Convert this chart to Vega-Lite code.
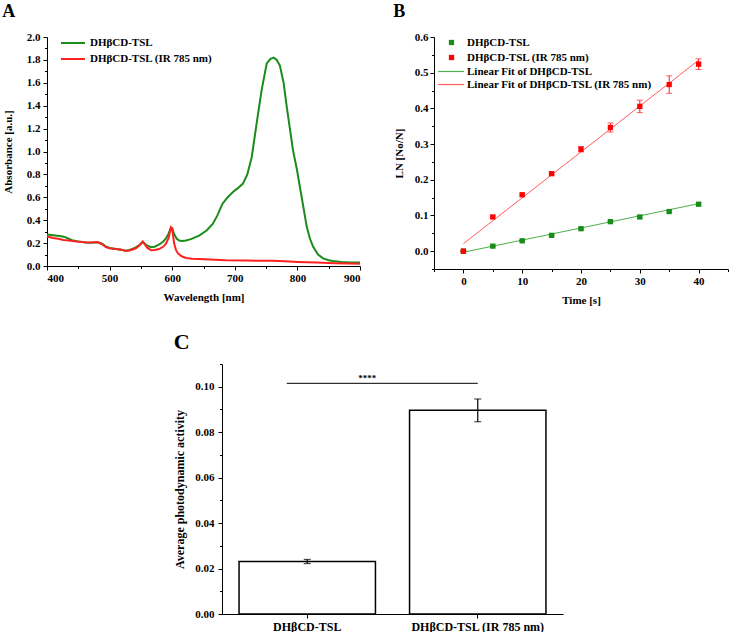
{
  "$schema": "https://vega.github.io/schema/vega-lite/v6.json",
  "padding": {"left": 2, "top": 3, "right": 0, "bottom": 0},
  "background": "white",
  "config": {
    "font": "Liberation Serif",
    "view": {"stroke": null},
    "axis": {"grid": false, "domainColor": "black", "tickColor": "black", "labelColor": "black", "titleColor": "black", "labelFont": "Liberation Serif", "titleFont": "Liberation Serif", "labelFontWeight": "bold", "titleFontWeight": "bold", "labelFontSize": 11, "titleFontSize": 11, "labelPadding": 2, "domainWidth": 1, "tickWidth": 1},
    "legend": {"labelFont": "Liberation Serif", "labelFontWeight": "bold", "labelFontSize": 11, "labelColor": "black", "labelLimit": 400},
    "title": {"font": "Liberation Serif", "fontWeight": "bold", "color": "black", "anchor": "start", "frame": "bounds"}
  },
  "spacing": 25,
  "resolve": {
    "scale": {"color": "independent", "fill": "independent", "stroke": "independent"},
    "legend": {"color": "independent", "fill": "independent", "stroke": "independent"}
  },
  "vconcat": [
    {
      "spacing": 29,
      "resolve": {
        "scale": {"color": "independent", "fill": "independent", "stroke": "independent"},
        "legend": {"color": "independent", "fill": "independent", "stroke": "independent"}
      },
      "hconcat": [
        {
          "title": {"text": "A", "fontSize": 18, "offset": 10},
          "width": 313,
          "height": 229,
          "data": {"values": [
            {"sample": "DHβCD-TSL", "wavelength": 400, "abs": 0.275},
            {"sample": "DHβCD-TSL", "wavelength": 410, "abs": 0.268},
            {"sample": "DHβCD-TSL", "wavelength": 420, "abs": 0.262},
            {"sample": "DHβCD-TSL", "wavelength": 425, "abs": 0.257},
            {"sample": "DHβCD-TSL", "wavelength": 430, "abs": 0.25},
            {"sample": "DHβCD-TSL", "wavelength": 440, "abs": 0.225},
            {"sample": "DHβCD-TSL", "wavelength": 450, "abs": 0.215},
            {"sample": "DHβCD-TSL", "wavelength": 462, "abs": 0.205},
            {"sample": "DHβCD-TSL", "wavelength": 470, "abs": 0.203},
            {"sample": "DHβCD-TSL", "wavelength": 481, "abs": 0.207},
            {"sample": "DHβCD-TSL", "wavelength": 488, "abs": 0.195},
            {"sample": "DHβCD-TSL", "wavelength": 494, "abs": 0.17},
            {"sample": "DHβCD-TSL", "wavelength": 500, "abs": 0.157},
            {"sample": "DHβCD-TSL", "wavelength": 510, "abs": 0.148},
            {"sample": "DHβCD-TSL", "wavelength": 520, "abs": 0.14},
            {"sample": "DHβCD-TSL", "wavelength": 526, "abs": 0.134},
            {"sample": "DHβCD-TSL", "wavelength": 532, "abs": 0.14},
            {"sample": "DHβCD-TSL", "wavelength": 540, "abs": 0.157},
            {"sample": "DHβCD-TSL", "wavelength": 548, "abs": 0.185},
            {"sample": "DHβCD-TSL", "wavelength": 553, "abs": 0.212},
            {"sample": "DHβCD-TSL", "wavelength": 558, "abs": 0.185},
            {"sample": "DHβCD-TSL", "wavelength": 566, "abs": 0.165},
            {"sample": "DHβCD-TSL", "wavelength": 572, "abs": 0.168},
            {"sample": "DHβCD-TSL", "wavelength": 580, "abs": 0.19},
            {"sample": "DHβCD-TSL", "wavelength": 586, "abs": 0.215},
            {"sample": "DHβCD-TSL", "wavelength": 590, "abs": 0.24},
            {"sample": "DHβCD-TSL", "wavelength": 594, "abs": 0.28},
            {"sample": "DHβCD-TSL", "wavelength": 598, "abs": 0.335},
            {"sample": "DHβCD-TSL", "wavelength": 600, "abs": 0.33},
            {"sample": "DHβCD-TSL", "wavelength": 603, "abs": 0.28},
            {"sample": "DHβCD-TSL", "wavelength": 607, "abs": 0.24},
            {"sample": "DHβCD-TSL", "wavelength": 611, "abs": 0.222},
            {"sample": "DHβCD-TSL", "wavelength": 616, "abs": 0.218},
            {"sample": "DHβCD-TSL", "wavelength": 622, "abs": 0.222},
            {"sample": "DHβCD-TSL", "wavelength": 630, "abs": 0.235},
            {"sample": "DHβCD-TSL", "wavelength": 643, "abs": 0.265},
            {"sample": "DHβCD-TSL", "wavelength": 655, "abs": 0.31},
            {"sample": "DHβCD-TSL", "wavelength": 665, "abs": 0.37},
            {"sample": "DHβCD-TSL", "wavelength": 672, "abs": 0.44},
            {"sample": "DHβCD-TSL", "wavelength": 680, "abs": 0.54},
            {"sample": "DHβCD-TSL", "wavelength": 687, "abs": 0.59},
            {"sample": "DHβCD-TSL", "wavelength": 693, "abs": 0.625},
            {"sample": "DHβCD-TSL", "wavelength": 698, "abs": 0.65},
            {"sample": "DHβCD-TSL", "wavelength": 705, "abs": 0.68},
            {"sample": "DHβCD-TSL", "wavelength": 713, "abs": 0.72},
            {"sample": "DHβCD-TSL", "wavelength": 720, "abs": 0.8},
            {"sample": "DHβCD-TSL", "wavelength": 727, "abs": 0.95},
            {"sample": "DHβCD-TSL", "wavelength": 735, "abs": 1.25},
            {"sample": "DHβCD-TSL", "wavelength": 743, "abs": 1.54},
            {"sample": "DHβCD-TSL", "wavelength": 751, "abs": 1.77},
            {"sample": "DHβCD-TSL", "wavelength": 757, "abs": 1.81},
            {"sample": "DHβCD-TSL", "wavelength": 762, "abs": 1.82},
            {"sample": "DHβCD-TSL", "wavelength": 767, "abs": 1.8},
            {"sample": "DHβCD-TSL", "wavelength": 772, "abs": 1.75},
            {"sample": "DHβCD-TSL", "wavelength": 778, "abs": 1.6},
            {"sample": "DHβCD-TSL", "wavelength": 783, "abs": 1.39},
            {"sample": "DHβCD-TSL", "wavelength": 788, "abs": 1.2},
            {"sample": "DHβCD-TSL", "wavelength": 793, "abs": 1.01},
            {"sample": "DHβCD-TSL", "wavelength": 799, "abs": 0.85},
            {"sample": "DHβCD-TSL", "wavelength": 804, "abs": 0.69},
            {"sample": "DHβCD-TSL", "wavelength": 810, "abs": 0.5},
            {"sample": "DHβCD-TSL", "wavelength": 815, "abs": 0.34},
            {"sample": "DHβCD-TSL", "wavelength": 820, "abs": 0.24},
            {"sample": "DHβCD-TSL", "wavelength": 825, "abs": 0.17},
            {"sample": "DHβCD-TSL", "wavelength": 833, "abs": 0.1},
            {"sample": "DHβCD-TSL", "wavelength": 841, "abs": 0.067},
            {"sample": "DHβCD-TSL", "wavelength": 850, "abs": 0.05},
            {"sample": "DHβCD-TSL", "wavelength": 857, "abs": 0.043},
            {"sample": "DHβCD-TSL", "wavelength": 870, "abs": 0.035},
            {"sample": "DHβCD-TSL", "wavelength": 885, "abs": 0.031},
            {"sample": "DHβCD-TSL", "wavelength": 900, "abs": 0.03},
            {"sample": "DHβCD-TSL (IR 785 nm)", "wavelength": 400, "abs": 0.258},
            {"sample": "DHβCD-TSL (IR 785 nm)", "wavelength": 410, "abs": 0.245},
            {"sample": "DHβCD-TSL (IR 785 nm)", "wavelength": 420, "abs": 0.235},
            {"sample": "DHβCD-TSL (IR 785 nm)", "wavelength": 426, "abs": 0.227},
            {"sample": "DHβCD-TSL (IR 785 nm)", "wavelength": 435, "abs": 0.222},
            {"sample": "DHβCD-TSL (IR 785 nm)", "wavelength": 447, "abs": 0.214},
            {"sample": "DHβCD-TSL (IR 785 nm)", "wavelength": 460, "abs": 0.208},
            {"sample": "DHβCD-TSL (IR 785 nm)", "wavelength": 470, "abs": 0.205},
            {"sample": "DHβCD-TSL (IR 785 nm)", "wavelength": 481, "abs": 0.209},
            {"sample": "DHβCD-TSL (IR 785 nm)", "wavelength": 488, "abs": 0.19},
            {"sample": "DHβCD-TSL (IR 785 nm)", "wavelength": 494, "abs": 0.165},
            {"sample": "DHβCD-TSL (IR 785 nm)", "wavelength": 500, "abs": 0.155},
            {"sample": "DHβCD-TSL (IR 785 nm)", "wavelength": 510, "abs": 0.148},
            {"sample": "DHβCD-TSL (IR 785 nm)", "wavelength": 518, "abs": 0.145},
            {"sample": "DHβCD-TSL (IR 785 nm)", "wavelength": 526, "abs": 0.131},
            {"sample": "DHβCD-TSL (IR 785 nm)", "wavelength": 532, "abs": 0.135},
            {"sample": "DHβCD-TSL (IR 785 nm)", "wavelength": 542, "abs": 0.155},
            {"sample": "DHβCD-TSL (IR 785 nm)", "wavelength": 548, "abs": 0.18},
            {"sample": "DHβCD-TSL (IR 785 nm)", "wavelength": 553, "abs": 0.212},
            {"sample": "DHβCD-TSL (IR 785 nm)", "wavelength": 556, "abs": 0.19},
            {"sample": "DHβCD-TSL (IR 785 nm)", "wavelength": 560, "abs": 0.16},
            {"sample": "DHβCD-TSL (IR 785 nm)", "wavelength": 566, "abs": 0.137},
            {"sample": "DHβCD-TSL (IR 785 nm)", "wavelength": 572, "abs": 0.14},
            {"sample": "DHβCD-TSL (IR 785 nm)", "wavelength": 579, "abs": 0.148},
            {"sample": "DHβCD-TSL (IR 785 nm)", "wavelength": 586, "abs": 0.17},
            {"sample": "DHβCD-TSL (IR 785 nm)", "wavelength": 590, "abs": 0.195},
            {"sample": "DHβCD-TSL (IR 785 nm)", "wavelength": 594, "abs": 0.24},
            {"sample": "DHβCD-TSL (IR 785 nm)", "wavelength": 598, "abs": 0.337},
            {"sample": "DHβCD-TSL (IR 785 nm)", "wavelength": 600, "abs": 0.325},
            {"sample": "DHβCD-TSL (IR 785 nm)", "wavelength": 603, "abs": 0.2},
            {"sample": "DHβCD-TSL (IR 785 nm)", "wavelength": 606, "abs": 0.14},
            {"sample": "DHβCD-TSL (IR 785 nm)", "wavelength": 609, "abs": 0.112},
            {"sample": "DHβCD-TSL (IR 785 nm)", "wavelength": 615, "abs": 0.085},
            {"sample": "DHβCD-TSL (IR 785 nm)", "wavelength": 622, "abs": 0.07},
            {"sample": "DHβCD-TSL (IR 785 nm)", "wavelength": 632, "abs": 0.064},
            {"sample": "DHβCD-TSL (IR 785 nm)", "wavelength": 643, "abs": 0.061},
            {"sample": "DHβCD-TSL (IR 785 nm)", "wavelength": 660, "abs": 0.056},
            {"sample": "DHβCD-TSL (IR 785 nm)", "wavelength": 686, "abs": 0.05},
            {"sample": "DHβCD-TSL (IR 785 nm)", "wavelength": 720, "abs": 0.047},
            {"sample": "DHβCD-TSL (IR 785 nm)", "wavelength": 760, "abs": 0.045},
            {"sample": "DHβCD-TSL (IR 785 nm)", "wavelength": 780, "abs": 0.042},
            {"sample": "DHβCD-TSL (IR 785 nm)", "wavelength": 800, "abs": 0.036},
            {"sample": "DHβCD-TSL (IR 785 nm)", "wavelength": 830, "abs": 0.03},
            {"sample": "DHβCD-TSL (IR 785 nm)", "wavelength": 860, "abs": 0.025},
            {"sample": "DHβCD-TSL (IR 785 nm)", "wavelength": 900, "abs": 0.02}
          ]},
          "mark": {"type": "line", "strokeWidth": 2},
          "encoding": {
            "x": {"field": "wavelength", "type": "quantitative", "scale": {"domain": [400, 900], "nice": false},
                  "axis": {"title": "Wavelength [nm]", "values": [400, 450, 500, 550, 600, 650, 700, 750, 800, 850, 900],
                           "labelExpr": "datum.value % 100 === 0 ? datum.label : ''",
                           "tickSize": {"condition": {"test": "datum.value % 100 === 0", "value": 4}, "value": 2.5},
                           "titlePadding": 8}},
            "y": {"field": "abs", "type": "quantitative", "scale": {"domain": [0, 2], "nice": false},
                  "axis": {"title": "Absorbance [a.u.]", "values": [0, 0.1, 0.2, 0.3, 0.4, 0.5, 0.6, 0.7, 0.8, 0.9, 1.0, 1.1, 1.2, 1.3, 1.4, 1.5, 1.6, 1.7, 1.8, 1.9, 2.0],
                           "labelExpr": "round(datum.value * 10) % 2 === 0 ? format(datum.value, '.1f') : ''",
                           "tickSize": {"condition": {"test": "round(datum.value * 10) % 2 === 0", "value": 4}, "value": 2.5},
                           "labelPadding": 3,
                           "titlePadding": 13}},
            "color": {"field": "sample", "type": "nominal",
                      "scale": {"domain": ["DHβCD-TSL", "DHβCD-TSL (IR 785 nm)"], "range": ["#1a8c1a", "#ff2020"]},
                      "legend": {"title": null, "orient": "none", "legendX": 13, "legendY": -1, "symbolType": "M-1,0H3", "symbolSize": 144, "symbolStrokeWidth": 2, "labelOffset": 16, "rowPadding": 4}}
          }
        },
        {
          "title": {"text": "B", "fontSize": 18, "offset": 10},
          "width": 294,
          "height": 232,
          "resolve": {
            "scale": {"color": "independent", "fill": "independent", "stroke": "independent"},
            "legend": {"color": "independent", "fill": "independent", "stroke": "independent"}
          },
          "encoding": {
            "x": {"field": "t", "type": "quantitative", "scale": {"domain": [-5, 45], "nice": false},
                  "axis": {"title": "Time [s]", "values": [-5, 0, 5, 10, 15, 20, 25, 30, 35, 40, 45],
                           "labelExpr": "datum.value % 10 === 0 ? datum.label : ''",
                           "tickSize": {"condition": {"test": "datum.value % 10 === 0", "value": 4}, "value": 2.5},
                           "titlePadding": 8}},
            "y": {"field": "y", "type": "quantitative", "scale": {"domain": [-0.05, 0.6], "nice": false},
                  "axis": {"title": "LN [No/N]", "values": [-0.05, 0, 0.05, 0.1, 0.15, 0.2, 0.25, 0.3, 0.35, 0.4, 0.45, 0.5, 0.55, 0.6],
                           "labelExpr": "round(datum.value * 100) % 10 === 0 ? format(datum.value, '.1f') : ''",
                           "tickSize": {"condition": {"test": "round(datum.value * 100) % 10 === 0", "value": 4}, "value": 2.5},
                           "titlePadding": 10}}
          },
          "layer": [
            {
              "data": {"values": [
                {"fit": "Linear Fit of DHβCD-TSL", "t": 0, "y": -0.003},
                {"fit": "Linear Fit of DHβCD-TSL", "t": 40, "y": 0.133},
                {"fit": "Linear Fit of DHβCD-TSL (IR 785 nm)", "t": 0, "y": 0.021},
                {"fit": "Linear Fit of DHβCD-TSL (IR 785 nm)", "t": 40, "y": 0.535}
              ]},
              "mark": {"type": "line", "strokeWidth": 1},
              "encoding": {
                "stroke": {"field": "fit", "type": "nominal",
                           "scale": {"domain": ["Linear Fit of DHβCD-TSL", "Linear Fit of DHβCD-TSL (IR 785 nm)"], "range": ["#4cb04c", "#ff5c5c"]},
                           "legend": {"title": null, "orient": "none", "legendX": 3, "legendY": 27, "symbolType": "M-1,0H3", "symbolSize": 169, "symbolStrokeWidth": 1.2, "labelOffset": 15, "rowPadding": 0}}
              }
            },
            {
              "data": {"name": "pts"},
              "mark": {"type": "errorbar", "ticks": {"size": 6, "thickness": 1}, "thickness": 1},
              "encoding": {
                "yError": {"field": "err"},
                "color": {"field": "sample", "type": "nominal", "scale": {"domain": ["DHβCD-TSL", "DHβCD-TSL (IR 785 nm)"], "range": ["#1a8c1a", "#ff2020"]}, "legend": null}
              }
            },
            {
              "data": {"name": "pts"},
              "mark": {"type": "square", "size": 28, "filled": true, "opacity": 1},
              "encoding": {
                "fill": {"field": "sample", "type": "nominal",
                         "scale": {"domain": ["DHβCD-TSL", "DHβCD-TSL (IR 785 nm)"], "range": ["#1a8c1a", "#ff0000"]},
                         "legend": {"title": null, "orient": "none", "legendX": 12, "legendY": 0, "symbolType": "square", "symbolSize": 28, "labelOffset": 10, "rowPadding": 3}}
              }
            }
          ]
        }
      ]
    },
    {
      "spacing": 0,
      "hconcat": [
        {
          "width": 126,
          "height": 250,
          "data": {"values": []},
          "mark": {"type": "point", "opacity": 0},
          "encoding": {}
        },
        {
          "title": {"text": "C", "fontSize": 22, "offset": 10},
          "width": 341,
          "height": 250,
          "encoding": {
            "y": {"field": "value", "type": "quantitative", "scale": {"domain": [0, 0.11], "nice": false},
                  "axis": {"title": "Average photodynamic activity", "titleFontSize": 12, "labelFontSize": 11,
                           "values": [0, 0.01, 0.02, 0.03, 0.04, 0.05, 0.06, 0.07, 0.08, 0.09, 0.1, 0.11],
                           "labelExpr": "round(datum.value * 100) % 2 === 0 ? format(datum.value, '.2f') : ''",
                           "tickSize": {"condition": {"test": "round(datum.value * 100) % 2 === 0", "value": 4}, "value": 2.5},
                           "labelPadding": 4,
                           "titlePadding": 8}}
          },
          "layer": [
            {
              "data": {"name": "bars"},
              "mark": {"type": "bar", "fill": "white", "stroke": "black", "strokeWidth": 1.5},
              "encoding": {
                "x": {"field": "group", "type": "nominal", "sort": null,
                      "scale": {"domain": ["DHβCD-TSL", "DHβCD-TSL (IR 785 nm)"], "paddingInner": 0.2, "paddingOuter": 0.1},
                      "axis": {"title": null, "labelAngle": 0, "labelFontSize": 12, "tickSize": 4, "labelPadding": 3}}
              }
            },
            {
              "data": {"name": "bars"},
              "mark": {"type": "errorbar", "ticks": {"size": 7, "thickness": 1.2}, "thickness": 1.2, "color": "black"},
              "encoding": {
                "x": {"field": "group", "type": "nominal"},
                "yError": {"field": "err"}
              }
            },
            {
              "data": {"name": "sig"},
              "mark": {"type": "rule", "color": "black", "strokeWidth": 1},
              "encoding": {
                "x": {"field": "from", "type": "nominal", "bandPosition": 0.35},
                "x2": {"field": "to", "bandPosition": 0.5}
              }
            },
            {
              "data": {"name": "sig"},
              "mark": {"type": "text", "fontSize": 9, "fontWeight": "bold", "dy": -5, "color": "black"},
              "encoding": {
                "x": {"field": "from", "type": "nominal", "bandPosition": 0.94},
                "text": {"field": "label"}
              }
            }
          ]
        }
      ]
    }
  ],
  "datasets": {
    "pts": [
      {"sample": "DHβCD-TSL", "t": 0, "y": 0.0, "err": 0.0},
      {"sample": "DHβCD-TSL", "t": 5, "y": 0.0141, "err": 0.002},
      {"sample": "DHβCD-TSL", "t": 10, "y": 0.029, "err": 0.002},
      {"sample": "DHβCD-TSL", "t": 15, "y": 0.0442, "err": 0.002},
      {"sample": "DHβCD-TSL", "t": 20, "y": 0.0629, "err": 0.002},
      {"sample": "DHβCD-TSL", "t": 25, "y": 0.0826, "err": 0.002},
      {"sample": "DHβCD-TSL", "t": 30, "y": 0.0958, "err": 0.004},
      {"sample": "DHβCD-TSL", "t": 35, "y": 0.111, "err": 0.003},
      {"sample": "DHβCD-TSL", "t": 40, "y": 0.1315, "err": 0.004},
      {"sample": "DHβCD-TSL (IR 785 nm)", "t": 0, "y": 0.0, "err": 0.0},
      {"sample": "DHβCD-TSL (IR 785 nm)", "t": 5, "y": 0.0958, "err": 0.003},
      {"sample": "DHβCD-TSL (IR 785 nm)", "t": 10, "y": 0.158, "err": 0.003},
      {"sample": "DHβCD-TSL (IR 785 nm)", "t": 15, "y": 0.217, "err": 0.003},
      {"sample": "DHβCD-TSL (IR 785 nm)", "t": 20, "y": 0.2855, "err": 0.0075},
      {"sample": "DHβCD-TSL (IR 785 nm)", "t": 25, "y": 0.3465, "err": 0.0127},
      {"sample": "DHβCD-TSL (IR 785 nm)", "t": 30, "y": 0.4056, "err": 0.0174},
      {"sample": "DHβCD-TSL (IR 785 nm)", "t": 35, "y": 0.4667, "err": 0.0245},
      {"sample": "DHβCD-TSL (IR 785 nm)", "t": 40, "y": 0.524, "err": 0.015}
    ],
    "bars": [
      {"group": "DHβCD-TSL", "value": 0.0231, "err": 0.0009},
      {"group": "DHβCD-TSL (IR 785 nm)", "value": 0.0896, "err": 0.005}
    ],
    "sig": [
      {"from": "DHβCD-TSL", "to": "DHβCD-TSL (IR 785 nm)", "value": 0.1015, "label": "****"}
    ]
  }
}
